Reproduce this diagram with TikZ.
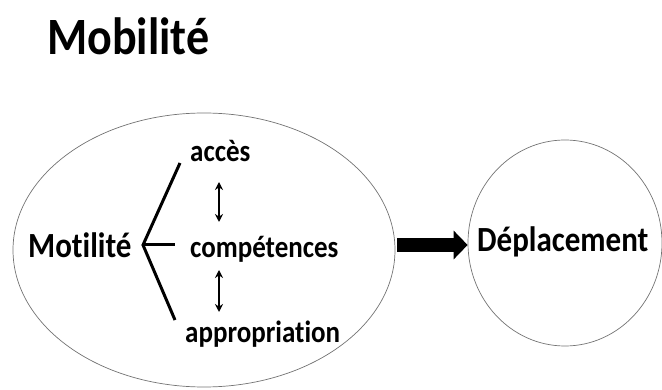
\documentclass[tikz,border=0pt]{standalone}
\usepackage{fontspec}
\setmainfont{Carlito}[Ligatures=NoCommon]
\usetikzlibrary{shapes.geometric,arrows.meta}
\newcommand{\vstretch}[1]{\scalebox{1}[1.14]{#1}}
\begin{document}
\begin{tikzpicture}[x=1pt,y=-1pt,
  txt/.style={inner sep=0pt,anchor=base west,font=\bfseries},
  ring/.style={ellipse,draw=black!55,line width=0.7pt,inner sep=0pt},
  branch/.style={line width=3pt},
  dbl/.style={line width=1.8pt,{Stealth[length=8pt,width=8pt]}-{Stealth[length=8pt,width=8pt]}}]
\useasboundingbox (0,0) rectangle (662,390);
\node[txt,font=\bfseries\fontsize{46}{50}\selectfont] (title) at (47,55) {\vstretch{Mobilité}};
\node[ring,minimum width=382pt,minimum height=274pt] (ell) at (204,250) {};
\node[ring,minimum width=194pt,minimum height=206pt] (circ) at (565,243) {};
\node[txt,font=\bfseries\fontsize{31}{34}\selectfont] (mot) at (28,258) {\vstretch{Motilité}};
\node[txt,font=\bfseries\fontsize{27}{30}\selectfont] (acc) at (190,162) {\vstretch{accès}};
\node[txt,font=\bfseries\fontsize{27}{30}\selectfont] (comp) at (190,258) {\vstretch{compétences}};
\node[txt,font=\bfseries\fontsize{27}{30}\selectfont] (appr) at (185,343) {\vstretch{appropriation}};
\node[txt,font=\bfseries\fontsize{31}{34}\selectfont] (dep) at (477,252) {\vstretch{Déplacement}};
\coordinate (apex) at (143,245);
\coordinate (bt) at (180,163);
\coordinate (bm) at (175,245);
\coordinate (bb) at (175,320);
\draw[branch,line join=miter] (bt) -- (apex) -- (bb);
\draw[branch] (apex) -- (bm);
\coordinate (a1) at (219,182);
\coordinate (a2) at (219,222);
\coordinate (a3) at (219,270);
\coordinate (a4) at (219,312);
\draw[dbl] (a1) -- (a2);
\draw[dbl] (a3) -- (a4);
\draw[line width=14pt,-{Triangle[length=14pt,width=28pt]}] (ell.east |- 0,245) ++(2,0) coordinate (s) -- (circ.west |- 0,245);
\end{tikzpicture}
\end{document}
